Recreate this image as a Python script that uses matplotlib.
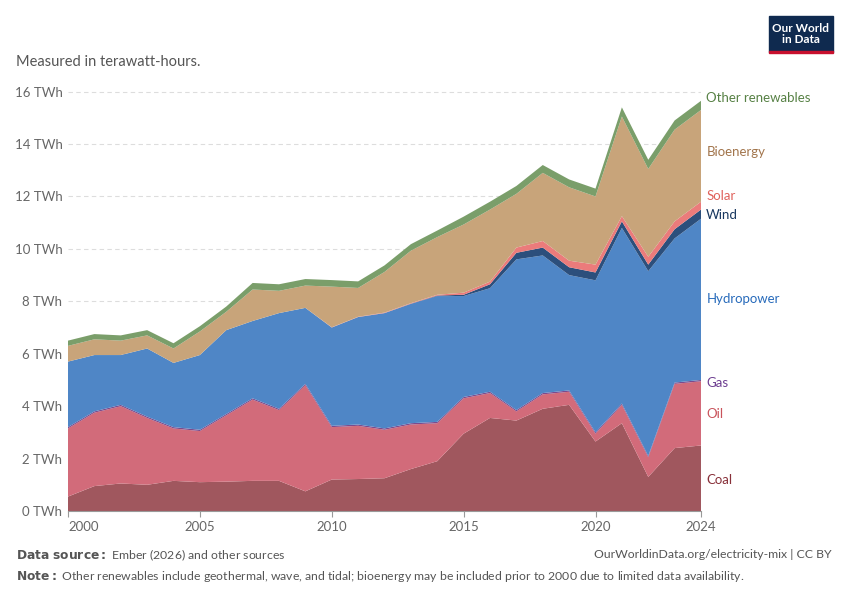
import matplotlib.pyplot as plt
import matplotlib.patches as mpatches
import numpy as np

plt.rcParams['font.family'] = ['Lato', 'DejaVu Sans']

years = list(range(2000, 2025))
coal = [0.55,0.95,1.05,1.0,1.15,1.1,1.12,1.15,1.15,0.75,1.2,1.22,1.25,1.6,1.9,2.95,3.55,3.45,3.9,4.05,2.65,3.35,1.3,2.4,2.5]
oil = [2.6,2.8,2.95,2.55,2.0,1.95,2.53,3.1,2.7,4.05,2.0,2.03,1.85,1.7,1.45,1.35,0.95,0.35,0.55,0.5,0.3,0.7,0.75,2.45,2.45]
gas = [0.05]*25
hydro = [2.5,2.15,1.9,2.6,2.45,2.85,3.2,2.95,3.65,2.9,3.75,4.1,4.4,4.55,4.8,3.85,3.95,5.75,5.25,4.4,5.8,6.7,7.05,5.5,6.15]
wind = [0,0,0,0,0,0,0,0,0,0,0,0,0,0.01,0.02,0.05,0.15,0.25,0.3,0.3,0.3,0.25,0.25,0.35,0.35]
solar = [0,0,0,0,0,0,0,0,0,0,0.01,0.01,0.02,0.02,0.03,0.08,0.1,0.2,0.25,0.25,0.3,0.2,0.3,0.3,0.3]
bio = [0.6,0.6,0.55,0.5,0.55,0.9,0.7,1.2,0.85,0.85,1.55,1.1,1.55,2.0,2.2,2.6,2.75,2.05,2.6,2.8,2.6,3.8,3.35,3.5,3.5]
other = [0.2,0.2,0.2,0.2,0.2,0.2,0.2,0.25,0.25,0.25,0.25,0.25,0.25,0.25,0.25,0.3,0.3,0.3,0.3,0.3,0.3,0.35,0.35,0.35,0.35]

series = [("Coal",coal,"#a0575e","#883039"),("Oil",oil,"#d26b7a","#c9535b"),("Gas",gas,"#7b4a8c","#6d3e91"),
          ("Hydropower",hydro,"#4f86c6","#286bbb"),("Wind",wind,"#2c4f7c","#18375f"),("Solar",solar,"#eb7b7b","#e0625c"),
          ("Bioenergy",bio,"#c8a47a","#a2754c"),("Other renewables",other,"#7a9e6a","#578145")]

fig = plt.figure(figsize=(8.5,6), dpi=100)
ax = fig.add_axes([68/850, 89/600, (701-68)/850, (511-89)/600])
ax.stackplot(years, *[s[1] for s in series], colors=[s[2] for s in series], linewidth=0)
ax.set_xlim(2000, 2024)
ax.set_ylim(0, 16.1)
ax.set_yticks(range(0,17,2))
ax.set_yticklabels([f"{v} TWh" for v in range(0,17,2)], color="#666", fontsize=9.5)
ax.set_xticks([2000,2005,2010,2015,2020,2024])
ax.set_xticklabels(["2000","2005","2010","2015","2020","2024"], color="#666", fontsize=9.5)
ax.get_xticklabels()[0].set_horizontalalignment("left")
ax.grid(axis="y", color="#ddd", linestyle=(0,(4,3)), linewidth=0.8)
ax.set_axisbelow(True)
for s in ["top","right","left"]:
    ax.spines[s].set_visible(False)
ax.spines["bottom"].set_color("#999")
ax.tick_params(axis="y", length=0, pad=4)
ax.tick_params(axis="x", length=4, color="#999")

label_y = {"Coal":1.2,"Oil":3.7,"Gas":4.9,"Hydropower":8.1,"Wind":11.3,"Solar":12.0,"Bioenergy":13.7,"Other renewables":15.75}
for name, v, c, tc in series:
    ax.text(2024.2, label_y[name], name, color=tc, fontsize=9.5, va="center", ha="left", clip_on=False)

fig.text(16/850, 1-62/600, "Measured in terawatt-hours.", fontsize=10.5, color="#555", va="center")
fig.patches.append(mpatches.Rectangle((769/850, 1-52/600), 64/850, 36/600, transform=fig.transFigure, color="#0f2a4f"))
fig.patches.append(mpatches.Rectangle((769/850, 1-53/600), 64/850, 2/600, transform=fig.transFigure, color="#c8102e"))
fig.text(801/850, 1-34/600, "Our World\nin Data", color="white", fontsize=8.5, weight="bold", ha="center", va="center", linespacing=1.0)
fig.text(16/850, 1-555/600, r"$\bf{Data\ source:}$ Ember (2026) and other sources", fontsize=8.8, color="#555", va="center")
fig.text(832/850, 1-555/600, "OurWorldinData.org/electricity-mix | CC BY", fontsize=8.8, color="#555", va="center", ha="right")
fig.text(16/850, 1-577/600, r"$\bf{Note:}$ Other renewables include geothermal, wave, and tidal; bioenergy may be included prior to 2000 due to limited data availability.", fontsize=8.8, color="#555", va="center")
fig.savefig("out.png", dpi=100)
